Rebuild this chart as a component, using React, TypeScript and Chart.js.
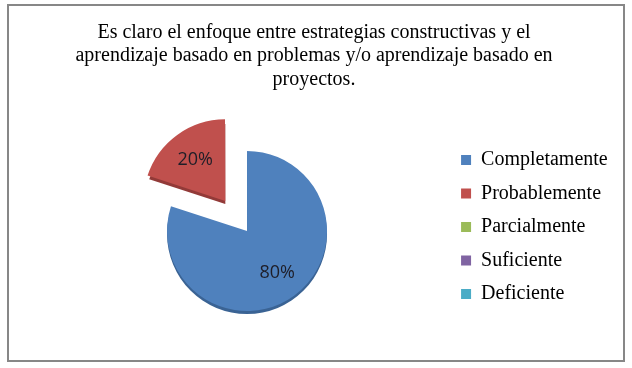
import React, { useEffect, useRef } from 'react';
import { Chart, registerables, layouts } from 'chart.js';

Chart.register(...registerables);

const titleLines = [
  'Es claro el enfoque entre estrategias constructivas y el',
  'aprendizaje basado en problemas y/o aprendizaje basado en',
  'proyectos.',
];
const categories = ['Completamente', 'Probablemente', 'Parcialmente', 'Suficiente', 'Deficiente'];
const values = [80, 20, 0, 0, 0];
const colors = ['#4F81BD', '#C0504D', '#9BBB59', '#8064A2', '#4BACC6'];
const rimColors = ['#3A6394', '#923A38', '#789243', '#5F4880', '#33869E'];

const SERIF = "'Liberation Serif', 'Times New Roman', serif";

// Invisible left layout box that reserves room to the left of the plot area
const spacerPlugin = {
  id: 'leftSpacer',
  beforeInit(chart: any) {
    const box: any = {
      position: 'left',
      fullSize: false,
      weight: 0,
      options: { display: false },
      left: 0, top: 0, right: 0, bottom: 0, width: 0, height: 0,
      update(maxWidth: number, maxHeight: number) {
        this.width = 36.2;
        this.height = maxHeight;
        return { width: this.width, height: this.height };
      },
      isHorizontal() {
        return false;
      },
      draw() {},
    };
    layouts.addBox(chart, box);
  },
};

const framePlugin = {
  id: 'frame',
  beforeDraw(chart: any) {
    const ctx = chart.ctx;
    ctx.save();
    ctx.fillStyle = '#ffffff';
    ctx.fillRect(0, 0, chart.width, chart.height);
    ctx.restore();
  },
  afterDraw(chart: any) {
    const ctx = chart.ctx;
    ctx.save();
    ctx.strokeStyle = '#878787';
    ctx.lineWidth = 2;
    ctx.strokeRect(8, 5, 616, 356);
    ctx.restore();
  },
};

const depthPlugin = {
  id: 'depth',
  beforeDatasetsDraw(chart: any) {
    const ctx = chart.ctx;
    const meta = chart.getDatasetMeta(0);
    meta.data.forEach((arc: any, i: number) => {
      const { x, y, startAngle, endAngle, outerRadius } = arc.getProps(
        ['x', 'y', 'startAngle', 'endAngle', 'outerRadius'],
        true
      );
      if (endAngle - startAngle <= 0) return;
      const mid = (startAngle + endAngle) / 2;
      const off = (arc.options.offset || 0) / 4;
      const cx = x + Math.cos(mid) * off;
      const cy = y + Math.sin(mid) * off + 3;
      ctx.save();
      ctx.beginPath();
      ctx.moveTo(cx, cy);
      ctx.arc(cx, cy, outerRadius, startAngle, endAngle);
      ctx.closePath();
      ctx.fillStyle = rimColors[i];
      ctx.fill();
      ctx.restore();
    });
  },
};

const labelPlugin = {
  id: 'pctLabels',
  afterDatasetsDraw(chart: any) {
    const ctx = chart.ctx;
    const meta = chart.getDatasetMeta(0);
    const data = chart.data.datasets[0].data as number[];
    const total = data.reduce((a, b) => a + b, 0);
    meta.data.forEach((arc: any, i: number) => {
      const v = data[i];
      if (!v) return;
      const { x, y, startAngle, endAngle, outerRadius } = arc.getProps(
        ['x', 'y', 'startAngle', 'endAngle', 'outerRadius'],
        true
      );
      const mid = (startAngle + endAngle) / 2;
      const off = (arc.options.offset || 0) / 4;
      const d = off + outerRadius * 0.64;
      ctx.save();
      ctx.font = "18px 'Open Sans', 'Noto Sans', sans-serif";
      ctx.fillStyle = '#1e1e28';
      ctx.textAlign = 'center';
      ctx.textBaseline = 'middle';
      ctx.fillText(Math.round((v / total) * 100) + '%', x + Math.cos(mid) * d, y + Math.sin(mid) * d);
      ctx.restore();
    });
  },
};

export default function App() {
  const ref = useRef<HTMLCanvasElement | null>(null);

  useEffect(() => {
    if (!ref.current) return;
    const chart = new Chart(ref.current, {
      type: 'pie',
      data: {
        labels: categories,
        datasets: [
          {
            data: values,
            backgroundColor: colors,
            borderWidth: 0,
            radius: 80,
            offset: (c: any) => (c.dataIndex === 1 ? 148 : 0),
          } as any,
        ],
      },
      options: {
        responsive: false,
        devicePixelRatio: 1,
        animation: false,
        events: [],
        layout: { padding: { left: 10.3, right: 14.3, top: 0, bottom: 42.5 } },
        plugins: {
          title: {
            display: true,
            text: titleLines,
            color: '#000000',
            font: { family: SERIF, size: 20, weight: 'normal', lineHeight: 1.175 },
            padding: { top: 20.5, bottom: 45.5 },
          },
          legend: {
            position: 'right',
            align: 'start',
            fullSize: false,
            labels: {
              boxWidth: 10,
              boxHeight: 10,
              padding: 13.5,
              color: '#000000',
              font: { family: SERIF, size: 20 },
            },
          },
          tooltip: { enabled: false },
        },
      } as any,
      plugins: [spacerPlugin, framePlugin, depthPlugin, labelPlugin],
    });
    return () => chart.destroy();
  }, []);

  return (
    <div style={{ position: 'fixed', left: 0, top: 0, width: 632, height: 368, background: '#fff' }}>
      <canvas ref={ref} width={632} height={368} style={{ display: 'block' }} />
    </div>
  );
}
